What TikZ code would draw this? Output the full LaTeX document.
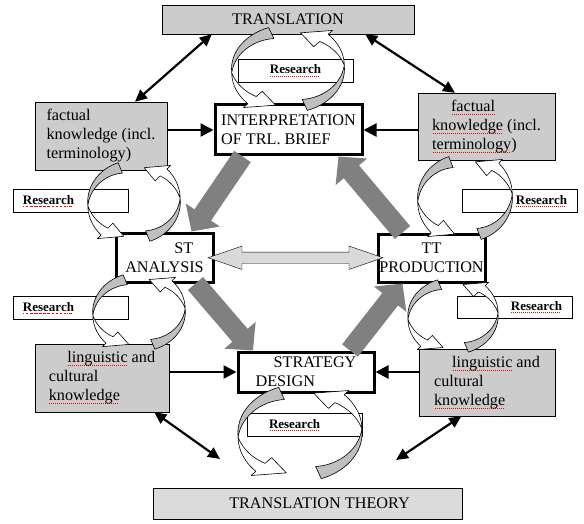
\documentclass[tikz,border=0pt]{standalone}
\usepackage{fontspec}
\setmainfont{Liberation Serif}
\usetikzlibrary{arrows.meta,shapes.arrows,calc}
\newsavebox{\squigbox}
\newcommand{\squig}[1]{\sbox{\squigbox}{#1}\leavevmode\rlap{\color{red}\raisebox{-3pt}{\hbox to \wd\squigbox{\leaders\hbox to 2pt{\hss\rule{1pt}{0.7pt}\hss}\hfill}}}\usebox{\squigbox}}
\definecolor{boxgray}{gray}{0.8}
\definecolor{theorygray}{gray}{0.86}
\definecolor{loopgray}{gray}{0.75}
\definecolor{flowgray}{gray}{0.5}
\definecolor{midgray}{gray}{0.85}

\tikzset{
  research loop/.pic={
    \foreach \r in {0,180} {
      \begin{scope}[rotate=\r]
        % white face and head
        \draw[loop band] plot[domain=185:228, samples=12] (\x:{(11.3+0.7*(\x-185)/43)*1pt})
          -- (228:13.3pt) -- (255:9.6pt) -- (228:7.7pt)
          -- plot[domain=228:185, samples=12] (\x:{(11.3-1.8*(\x-185)/43)*1pt}) -- cycle;
        % gray face
        \draw[loop band, fill=loopgray] plot[domain=110:185, samples=16] (\x:11.3pt)
          -- plot[domain=185:110, samples=16] (\x:{(11.3-3*(185-\x)/75)*1pt}) -- cycle;
      \end{scope}
    }
  }
}

\begin{document}
\begin{tikzpicture}[x=1pt, y=-1pt,
  every node/.style={font=\fontsize{16.2pt}{19pt}\selectfont, inner sep=0pt},
  shaded/.style={draw, fill=boxgray, minimum height=29pt},
  knowledge/.style={draw, fill=boxgray, align=left},
  stage/.style={draw, line width=3pt, fill=white, align=center},
  research/.style={draw, fill=white, font=\fontsize{13pt}{15pt}\selectfont\bfseries,
    minimum height=23pt, text width=95pt, inner xsep=10pt},
  link/.style={line width=2.5pt, -{Triangle[length=13pt,width=13pt]}},
  both/.style={line width=2.2pt, {Triangle[length=12pt,width=11pt]}-{Triangle[length=12pt,width=11pt]}},
  flow/.style={line width=20pt, draw=flowgray, -{Triangle[length=20pt,width=40pt]}},
  loop band/.style={draw, line width=0.6pt, fill=white, line join=round}]
  \useasboundingbox (0,0) rectangle (584,524);

  % outer frame
  \node (trans)  [shaded, minimum width=252pt] at (288,19.5) {TRANSLATION\hspace{26pt}};
  \node (theory) [shaded, fill=theorygray, minimum width=309pt, minimum height=31pt] at (307.5,503.5)
    {\hspace{24pt}TRANSLATION THEORY};

  % knowledge
  \node (fl) [knowledge, minimum width=132pt, minimum height=68pt] at (101,136)
    {factual\\knowledge (incl.\\terminology)};
  \node (fr) [knowledge, minimum width=137pt, minimum height=67pt] at (486.5,126.5)
    {\hspace*{19pt}\squig{factual}\\\squig{knowledge} (incl.\\\squig{terminology})};
  \node (ll) [knowledge, minimum width=134pt, minimum height=68pt] at (102,378)
    {\hspace*{18.5pt}\squig{linguistic} and\\cultural\\\squig{knowledge}};
  \node (lr) [knowledge, minimum width=136pt, minimum height=67pt] at (487,382.5)
    {\hspace*{18pt}\squig{linguistic} and\\cultural\\\squig{knowledge}};

  % stages
  \node (interp) [stage, align=left, minimum width=147pt, minimum height=50pt] at (288.5,130)
    {INTERPRETATION\\OF TRL. BRIEF};
  \node (st) [stage, minimum width=97pt, minimum height=49pt] at (164.5,257.5)
    {\hspace*{2.4em}ST\\ANALYSIS};
  \node (tt) [stage, minimum width=107pt, minimum height=48pt] at (431.5,258)
    {TT\\PRODUCTION};
  \node (strat) [stage, align=left, minimum width=136pt, minimum height=40pt] at (306,372)
    {\hspace*{18pt}STRATEGY\\DESIGN};

  % research
  \node (r1) [research, align=center] at (295.5,70.5) {\squig{Research}};
  \node (r2) [research, align=left]   at (70.5,201)   {\squig{Research}};
  \node (r3) [research, align=left]   at (70.5,308)   {\squig{Research}};
  \node (r4) [research, align=right]  at (519.5,201)  {\squig{Research}};
  \node (r5) [research, align=right, minimum height=22pt] at (514.5,307) {\squig{Research}};
  \node (r6) [research, align=left]   at (304.5,425)  {\hspace*{12pt}\squig{Research}};

  \pic[xscale=5,   yscale=3.9] at (288,69)  {research loop};
  \pic[xscale=4.1, yscale=3.7] at (134,202) {research loop};
  \pic[xscale=4.1, yscale=3.5] at (139,312) {research loop};
  \pic[xscale=4.2, yscale=3.9] at (465,198) {research loop};
  \pic[xscale=4,   yscale=3.4] at (453,316) {research loop};
  \pic[xscale=5.5, yscale=4.3] at (300,433) {research loop};

  % knowledge into stages
  \draw[link] (fl.east |- interp) -- (interp.west);
  \draw[link] (fr.west |- interp) -- (interp.east);
  \draw[link] (ll.east |- strat) -- (strat.west);
  \draw[link] (lr.west |- strat) -- (strat.east);

  \coordinate (theoryL) at (220,459);
  \coordinate (theoryR) at (396,460);
  \draw[both] ([xshift=34pt]fl.north) -- ([xshift=50pt]trans.south west);
  \draw[both] ([xshift=-49pt]trans.south east) -- ([xshift=-31.5pt]fr.north);
  \draw[both] ([xshift=-15pt]ll.south east) -- (theoryL);
  \draw[both] ([xshift=42.5pt]lr.south west) -- (theoryR);

  % main cycle
  \draw[flow] ([xshift=-46pt]interp.south) -- ([xshift=27pt]st.north);
  \draw[flow] ([xshift=31pt]st.south) -- ([xshift=-53pt]strat.north);
  \draw[flow] ([xshift=44pt]strat.north) -- ([xshift=-29pt]tt.south);
  \draw[flow] ([xshift=-29pt]tt.north) -- ([xshift=50pt]interp.south);
  \node (mid) [double arrow, draw, fill=midgray, minimum height=175pt, inner sep=5.5pt,
    double arrow head extend=6pt, double arrow tip angle=38] at ($(st.east)!0.5!(tt.west)$) {};
\end{tikzpicture}
\end{document}
